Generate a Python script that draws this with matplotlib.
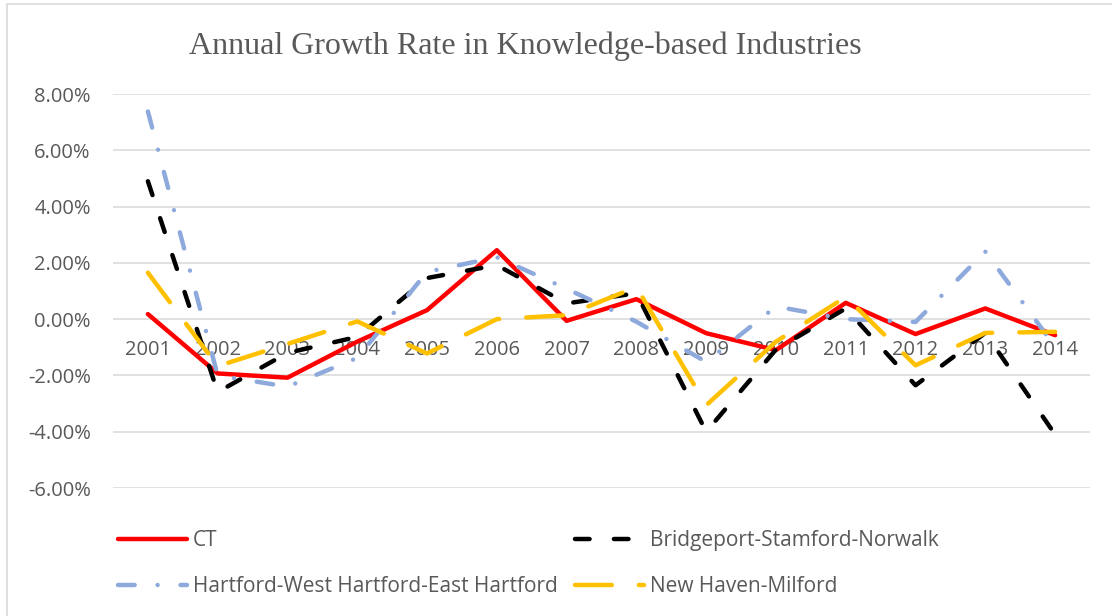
import matplotlib
matplotlib.use("Agg")
import matplotlib.pyplot as plt
from matplotlib.patches import Rectangle

years = ["2001", "2002", "2003", "2004", "2005", "2006", "2007",
         "2008", "2009", "2010", "2011", "2012", "2013", "2014"]
ct = [0.18, -1.93, -2.08, -0.80, 0.32, 2.45, -0.06, 0.71, -0.50, -1.10, 0.58, -0.53, 0.38, -0.57]
bridgeport = [4.90, -2.59, -1.20, -0.63, 1.46, 1.92, 0.56, 0.92, -4.00, -1.08, 0.38, -2.35, -0.49, -4.10]
hartford = [7.38, -2.00, -2.40, -1.38, 1.68, 2.20, 1.08, -0.09, -1.52, 0.45, 0.00, -0.10, 2.40, -0.98]
newhaven = [1.65, -1.67, -0.88, -0.08, -1.22, 0.00, 0.14, 1.14, -3.06, -0.80, 0.79, -1.64, -0.49, -0.45]
ytick_vals = [-6, -4, -2, 0, 2, 4, 6, 8]
ytick_labels = ["-6.00%", "-4.00%", "-2.00%", "0.00%", "2.00%", "4.00%", "6.00%", "8.00%"]
title = "Annual Growth Rate in Knowledge-based Industries"

plt.rcParams['lines.scale_dashes'] = False
W, H = 1112, 616
fig = plt.figure(figsize=(W / 100, H / 100), dpi=100)
ax = fig.add_axes([113 / W, 1 - 488 / H, (1090 - 113) / W, (488 - 94) / H])

txt_color = "#595959"
font = "Open Sans"
fs_tick = 14.5
fs_leg = 15

x = list(range(len(years)))
lw = 3.2
common = dict(lw=lw, solid_joinstyle='round', solid_capstyle='round',
              dash_capstyle='round', dash_joinstyle='round')
l_ct, = ax.plot(x, ct, color="#FF0000", label="CT", **common)
l_br, = ax.plot(x, bridgeport, color="#000000", ls=(0, (10.5, 17.5)),
                label="Bridgeport-Stamford-Norwalk", **common)
l_ha, = ax.plot(x, hartford, color="#8EA9DB", ls=(0, (12, 16.5, 0.01, 16.5)),
                label="Hartford-West Hartford-East Hartford", **common)
l_nh, = ax.plot(x, newhaven, color="#FFC000", ls=(0, (26.5, 19.5)),
                label="New Haven-Milford", **common)

ax.set_xlim(-0.5, len(years) - 0.5)
ax.set_ylim(-6, 8)
ax.spines['bottom'].set_position(('data', 0))
for s in ax.spines.values():
    s.set_visible(False)
ax.set_yticks(ytick_vals)
ax.set_yticklabels(ytick_labels)
ax.set_xticks(x)
ax.set_xticklabels(years)
for lab in ax.get_xticklabels() + ax.get_yticklabels():
    lab.set_fontfamily(font)
    lab.set_fontsize(fs_tick)
    lab.set_color(txt_color)
ax.tick_params(axis='both', length=0)
ax.tick_params(axis='y', pad=16)
ax.tick_params(axis='x', pad=15)
ax.yaxis.grid(True, color="#D9D9D9", lw=1.1)
ax.set_axisbelow(True)

fig.text(525 / W, 1 - 46 / H, title, ha='center', va='center',
         fontfamily="Liberation Serif", fontsize=23, color=txt_color)

leg = fig.legend([l_ct, l_ha, l_br, l_nh],
                 [l_ct.get_label(), l_ha.get_label(), l_br.get_label(), l_nh.get_label()],
                 ncol=2, loc='upper left', bbox_to_anchor=(118 / W, 1 - 530 / H),
                 frameon=False, borderpad=0, borderaxespad=0,
                 handlelength=3.3, handletextpad=0.3, columnspacing=0.85,
                 labelspacing=1.2,
                 prop={'family': font, 'size': fs_leg})
for t in leg.get_texts():
    t.set_color(txt_color)

fig.patches.append(Rectangle((7 / W, -0.1), 1.2, 1 - 4 / H + 0.1, transform=fig.transFigure,
                             fill=False, edgecolor="#D9D9D9", lw=1.2))

fig.savefig("out.png", dpi=100)
